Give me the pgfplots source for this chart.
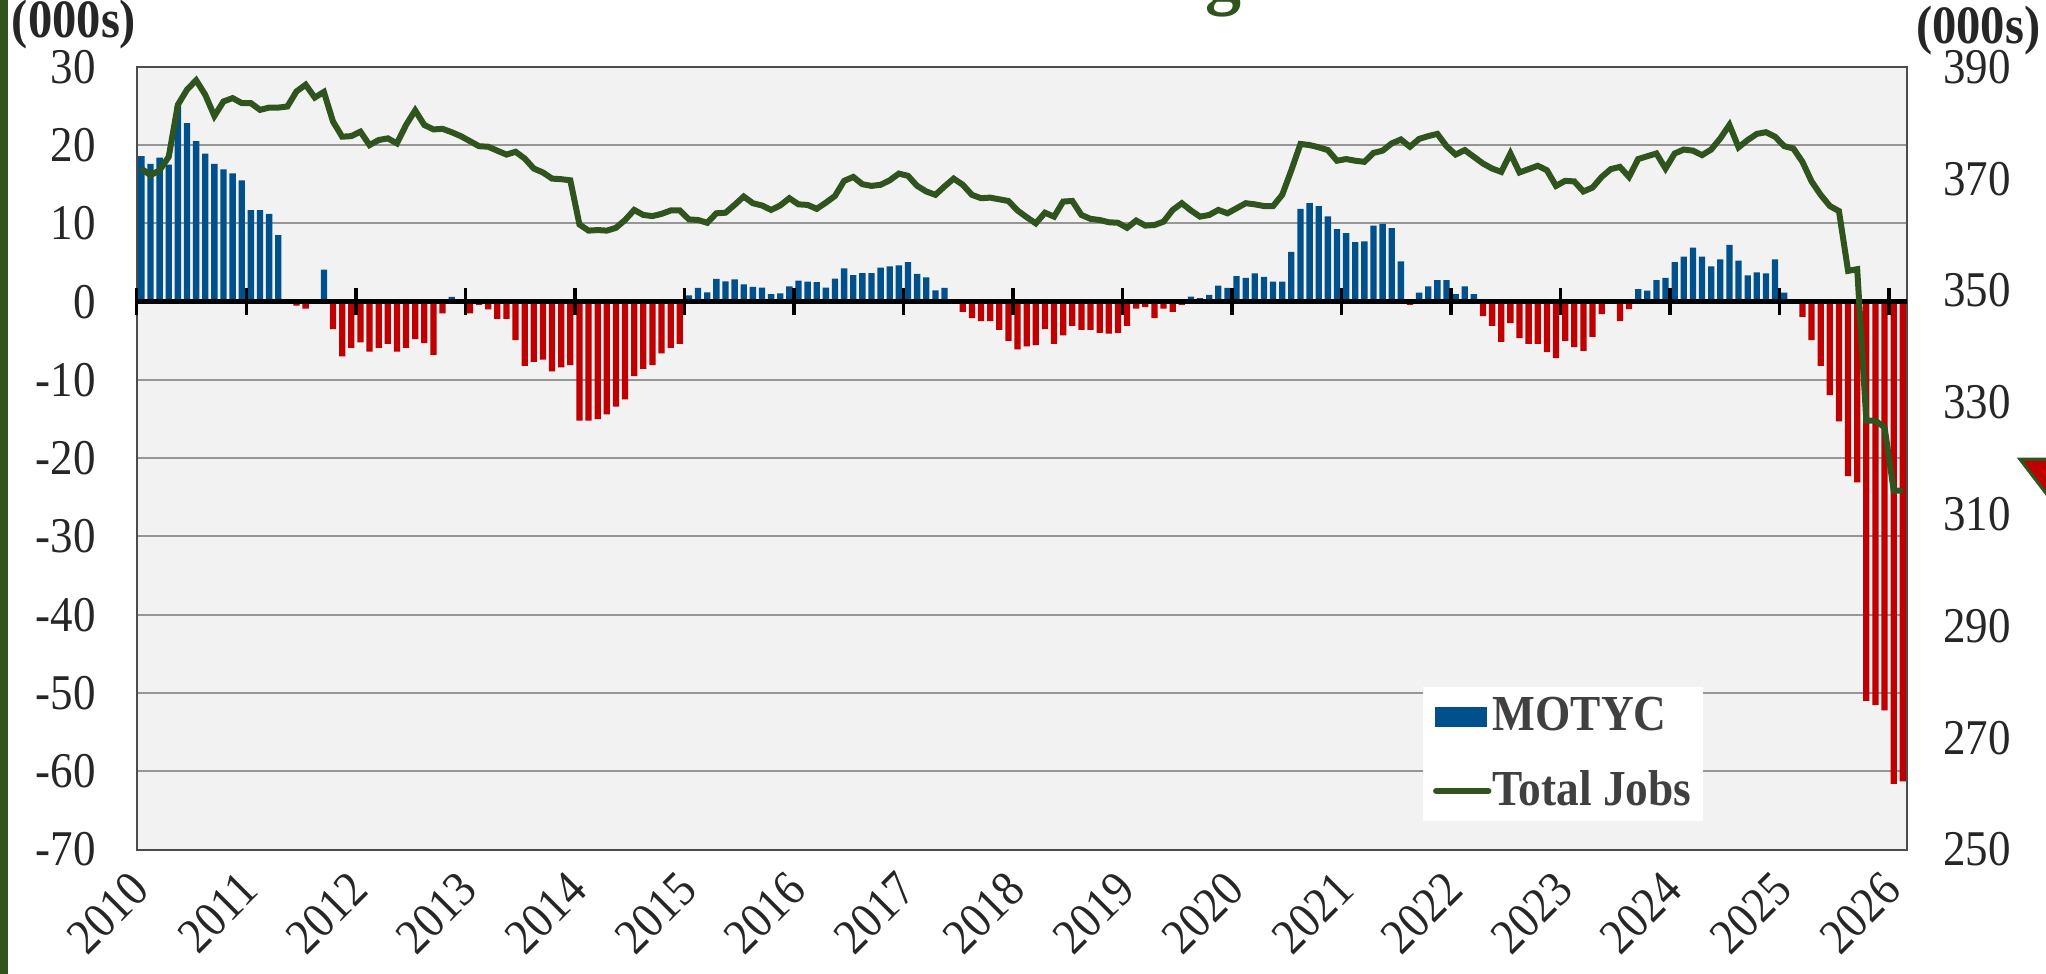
\documentclass[border=0pt]{standalone}
\usepackage{fontspec}
\setmainfont{Liberation Serif}[FakeStretch=0.9]
\usepackage{pgfplots}
\usepackage{pgfplotstable}
\pgfplotsset{compat=1.18}

\definecolor{motblue}{RGB}{0,80,140}
\definecolor{motred}{RGB}{192,0,0}
\definecolor{jobgreen}{RGB}{47,84,30}
\definecolor{plotbg}{RGB}{242,242,242}
\definecolor{gridgray}{RGB}{150,150,150}
\definecolor{txt}{RGB}{38,38,38}
\definecolor{legtxt}{RGB}{64,64,64}

% monthly, Jan 2010 .. Feb 2026: i = month index, m = MOTYC (000s), j = total jobs (000s)
\pgfplotstableread{
i m j
0 18.6 371.8
1 17.6 370.6
2 18.4 371.5
3 17.5 373.9
4 25.0 383.2
5 22.8 385.9
6 20.5 387.6
7 18.9 385.0
8 17.6 381.2
9 16.9 383.8
10 16.4 384.4
11 15.5 383.5
12 11.7 383.5
13 11.7 382.3
14 11.2 382.7
15 8.5 382.7
16 0 382.9
17 -0.5 385.6
18 -0.9 386.8
19 0 384.5
20 4.1 385.5
21 -3.5 380.2
22 -7.0 377.5
23 -5.9 377.6
24 -5.2 378.4
25 -6.4 376.0
26 -5.9 376.9
27 -5.4 377.2
28 -6.4 376.3
29 -5.9 379.6
30 -4.8 382.2
31 -5.3 379.6
32 -6.8 378.8
33 -1.5 378.9
34 0.6 378.3
35 0 377.6
36 -1.5 376.7
37 -0.4 375.8
38 -1.0 375.7
39 -2.2 375.0
40 -2.2 374.3
41 -4.9 374.8
42 -8.2 373.6
43 -7.7 371.8
44 -7.4 371.1
45 -8.9 370.0
46 -8.4 369.9
47 -8.1 369.7
48 -15.2 361.8
49 -15.2 360.7
50 -15.0 360.8
51 -14.4 360.7
52 -13.4 361.2
53 -12.5 362.6
54 -9.5 364.4
55 -8.6 363.5
56 -8.1 363.3
57 -6.6 363.7
58 -5.9 364.3
59 -5.4 364.3
60 0.8 362.7
61 1.75 362.6
62 1.2 362.1
63 2.9 363.8
64 2.6 363.9
65 2.85 365.3
66 2.2 366.8
67 1.9 365.6
68 1.8 365.2
69 0.95 364.4
70 1.05 365.2
71 1.95 366.5
72 2.7 365.4
73 2.55 365.3
74 2.5 364.6
75 1.8 365.7
76 2.95 366.9
77 4.25 369.6
78 3.4 370.3
79 3.65 369.0
80 3.65 368.7
81 4.35 368.9
82 4.5 369.7
83 4.65 370.9
84 5.05 370.5
85 3.55 368.7
86 3.1 367.7
87 1.45 367.1
88 1.75 368.6
89 0 370.0
90 -1.3 368.9
91 -2.1 367.1
92 -2.5 366.5
93 -2.5 366.6
94 -3.6 366.3
95 -5.0 366.0
96 -6.1 364.3
97 -5.7 363.1
98 -5.55 362.0
99 -3.5 363.9
100 -5.4 363.2
101 -4.3 365.9
102 -3.1 366.0
103 -3.6 363.5
104 -3.6 362.8
105 -4.0 362.6
106 -4.1 362.2
107 -4.0 362.1
108 -3.1 361.2
109 -0.9 362.5
110 -0.7 361.6
111 -2.1 361.7
112 -0.9 362.3
113 -1.3 364.4
114 -0.4 365.6
115 0.65 364.3
116 0.45 363.2
117 0.85 363.5
118 2.05 364.4
119 1.75 363.8
120 3.25 364.7
121 3.05 365.6
122 3.6 365.4
123 3.15 365.1
124 2.55 365.1
125 2.55 367.1
126 6.35 371.5
127 11.85 376.2
128 12.6 376.0
129 12.2 375.6
130 10.9 375.1
131 9.25 373.2
132 8.75 373.5
133 7.6 373.2
134 7.7 373.0
135 9.7 374.6
136 9.95 375.0
137 9.4 376.3
138 5.15 377.0
139 -0.4 375.7
140 1.15 377.1
141 1.95 377.6
142 2.75 378.0
143 2.75 375.8
144 0.95 374.3
145 1.95 375.1
146 0.95 373.9
147 -1.85 372.7
148 -3.1 371.8
149 -5.15 371.2
150 -2.75 374.5
151 -4.65 371.1
152 -5.4 371.7
153 -5.4 372.3
154 -6.45 371.5
155 -7.2 368.7
156 -5.0 369.6
157 -5.8 369.5
158 -6.3 367.7
159 -4.5 368.4
160 -1.6 370.3
161 0 371.7
162 -2.5 372.1
163 -0.95 370.3
164 1.6 373.5
165 1.4 374.0
166 2.75 374.5
167 3.05 371.8
168 5.05 374.5
169 5.75 375.2
170 6.9 375.0
171 5.75 374.2
172 4.5 375.2
173 5.4 377.2
174 7.25 379.6
175 5.25 375.6
176 3.35 376.9
177 3.75 378.0
178 3.6 378.3
179 5.4 377.5
180 1.15 375.8
181 0 375.4
182 -1.95 373.0
183 -4.9 369.5
184 -8.2 367.1
185 -11.95 365.1
186 -15.3 364.2
187 -22.3 353.5
188 -23.1 353.8
189 -51.0 326.7
190 -51.5 326.7
191 -52.2 325.5
192 -61.6 314.2
193 -61.3 314.2
}\data

\pgfplotsset{
  common/.style={
    at={(0,0)}, anchor=south west,
    scale only axis, width=442.65pt, height=195.7pt,
    xmin=-0.5, xmax=193.5,
    /pgf/number format/assume math mode=true,
    tick label style={font=\fontsize{12.5}{14}\selectfont, text=txt},
  }
}

\begin{document}
\begin{tikzpicture}
\useasboundingbox (-34.2pt,-31.1pt) rectangle (477.3pt,212.4pt);

% bars, background, grid, year labels
\begin{axis}[
    common,
    ymin=-70, ymax=30,
    ytick={-70,-60,...,30},
    xtick={-0.5,11.5,...,191.5},
    xticklabels={2010,2011,2012,2013,2014,2015,2016,2017,2018,2019,2020,2021,2022,2023,2024,2025,2026},
    ymajorgrids,
    grid style={gridgray, line width=0.5pt},
    axis background/.style={fill=plotbg},
    axis line style={gray!60!black, line width=0.5pt},
    major tick length=0pt,
    yticklabel style={anchor=east, inner sep=0pt, xshift=-10.1pt},
    xticklabel style={xshift=-2.25pt, yshift=-4.6pt, rotate=45, anchor=north east, inner sep=0pt},
]
\addplot[ybar, bar width=0.69, bar shift=0pt, fill=motblue, draw=none,
    restrict y to domain=0:100] table[x=i, y=m] {\data};
\addplot[ybar, bar width=0.69, bar shift=0pt, fill=motred, draw=none,
    restrict y to domain=-100:0] table[x=i, y=m] {\data};
\end{axis}

% zero line with year ticks
\begin{axis}[
    common,
    ymin=-70, ymax=30,
    axis x line=middle, axis y line=none,
    xtick={-0.5,11.5,...,191.5},
    xticklabels={},
    tick align=center, major tick length=6.7pt,
    x axis line style={-, line width=1.17pt, black},
    xtick style={line width=0.85pt, black},
]
\addplot[draw=none] coordinates {(0,0)};
\end{axis}

% total jobs on the right axis
\begin{axis}[
    common,
    ymin=250, ymax=390,
    axis x line=none,
    axis y line*=right,
    y axis line style={draw=none},
    ytick={250,270,...,390},
    major tick length=0pt,
    yticklabel style={anchor=west, inner sep=0pt, xshift=8.7pt},
    legend style={at={(0.726,0.035)}, anchor=south west, draw=none, fill=white,
        font=\fontsize{12.6}{14}\selectfont\bfseries, text=legtxt,
        inner xsep=2.5pt, inner ysep=0.5pt, row sep=4.5pt,
        nodes={inner xsep=0.3pt, inner ysep=2pt}},
    legend cell align=left,
]
\addlegendimage{legend image code/.code={\fill[motblue] (0pt,-2.3pt) rectangle (12.5pt,2.3pt);}}
\addlegendentry{MOTYC}
\addplot[jobgreen, line width=1.5pt,
    legend image code/.code={\draw[jobgreen, line width=1.6pt, line cap=round] (0pt,0pt) -- (13pt,0pt);}]
    table[x=i, y=j] {\data};
\addlegendentry{Total Jobs}
\end{axis}

% unit labels
\node[anchor=base west, inner sep=0pt, text=txt, font=\fontsize{13.5}{15}\selectfont\bfseries]
    at (-31.4pt,203.1pt) {(000s)};
\node[anchor=base west, inner sep=0pt, text=txt, font=\fontsize{13.5}{15}\selectfont\bfseries]
    at (444.6pt,201.4pt) {(000s)};

% frame decorations cut by the page edge
\fill[jobgreen] (-34.2pt,-31.1pt) rectangle (-32.2pt,212.4pt);
\node[anchor=base, inner sep=0pt, text=jobgreen, font=\fontsize{20}{24}\selectfont\bfseries]
    at (271.6pt,212.6pt) {g};
\filldraw[fill=motred, draw=jobgreen, line width=0.8pt]
    (470.8pt,97.6pt) -- (488.3pt,97.6pt) -- (479.6pt,86.1pt) -- cycle;
\end{tikzpicture}
\end{document}
